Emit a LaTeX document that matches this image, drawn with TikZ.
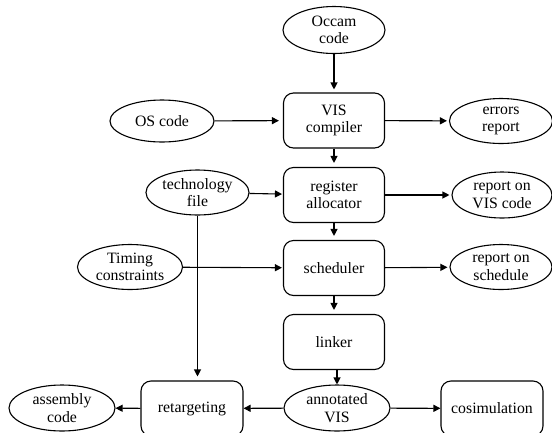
\documentclass[tikz,border=0pt]{standalone}
\usepackage{fontspec}
\setmainfont{Liberation Serif}
\usetikzlibrary{shapes.geometric,arrows.meta,calc}
\begin{document}
\begin{tikzpicture}[x=1pt,y=-1pt,
  every node/.style={font=\fontsize{15.8}{17.5}\selectfont},
  procbox/.style={draw, line width=1.1pt, rectangle, rounded corners=10pt,
    minimum width=101pt, minimum height=55pt, inner sep=0pt, align=center},
  dataell/.style={draw, line width=1.1pt, ellipse, inner sep=0pt,
    minimum width=103pt, minimum height=46pt},
  tlab/.style={align=center},
  flow/.style={line width=1.1pt, -{Triangle[length=7pt,width=7pt]}},
]
\useasboundingbox (0,0) rectangle (552,432);
% process boxes
\node[procbox] (vis) at (334,120.5) {VIS\\compiler};
\node[procbox] (reg) at (334,195) {register\\allocator};
\node[procbox] (sched) at (334,268) {scheduler};
\node[procbox] (linker) at (334,342) {linker};
\node[procbox, minimum width=102pt] (retarg) at (192,408.5) {retargeting};
\node[procbox, minimum width=102pt] (cosim) at (492,408.5) {cosimulation};
% data ellipses
\node[dataell, minimum width=102pt, minimum height=47pt,
  label={[tlab]center:Occam\\code}] (occam) at (334,30) {};
\node[dataell, minimum width=104pt, minimum height=42pt,
  label={[tlab]center:OS code}] (os) at (162,121) {};
\node[dataell, minimum width=103pt, minimum height=45pt,
  label={[tlab]center:errors\\report}] (errors) at (501,121) {};
\node[dataell, minimum width=103pt, minimum height=45pt,
  label={[tlab]center:technology\\file}] (tech) at (197.5,192.5) {};
\node[dataell, minimum width=100pt, minimum height=46pt,
  label={[tlab]center:report on\\VIS code}] (repvis) at (502,195) {};
\node[dataell, minimum width=105pt, minimum height=45pt,
  label={[tlab]center:Timing\\constraints}] (timing) at (130,267) {};
\node[dataell, minimum width=102pt, minimum height=45pt,
  label={[tlab]center:report on\\schedule}] (repsched) at (501,267) {};
\node[dataell, minimum width=106pt, minimum height=46pt,
  label={[tlab]center:annotated\\VIS}] (annot) at (337,408) {};
\node[dataell, minimum width=106pt, minimum height=46pt,
  label={[tlab]center:assembly\\code}] (asm) at (62,408) {};
% connectors
\draw[flow, shorten >=3pt] (occam) -- (vis);
\draw[flow, shorten >=4pt] (os) -- (vis);
\draw[flow, shorten >=2pt] (vis) -- (errors);
\draw[flow, shorten >=4pt] (vis) -- (reg);
\draw[flow, shorten >=1pt] (tech) -- (reg);
\draw[flow, shorten >=2pt] (reg) -- (repvis);
\draw[flow, shorten >=4pt] (reg) -- (sched);
\draw[flow, shorten >=1pt] (timing) -- (sched);
\draw[flow, shorten >=2pt] (sched) -- (repsched);
\draw[flow, shorten >=4pt] (sched) -- (linker);
\draw[flow] (annot.north |- linker.south) -- (annot.north);
\draw[flow, shorten >=4pt] (tech.south) -- (tech.south |- retarg.north);
\draw[flow] (annot) -- (retarg);
\draw[flow] (retarg) -- (asm);
\draw[flow] (annot) -- (cosim);
\end{tikzpicture}
\end{document}
